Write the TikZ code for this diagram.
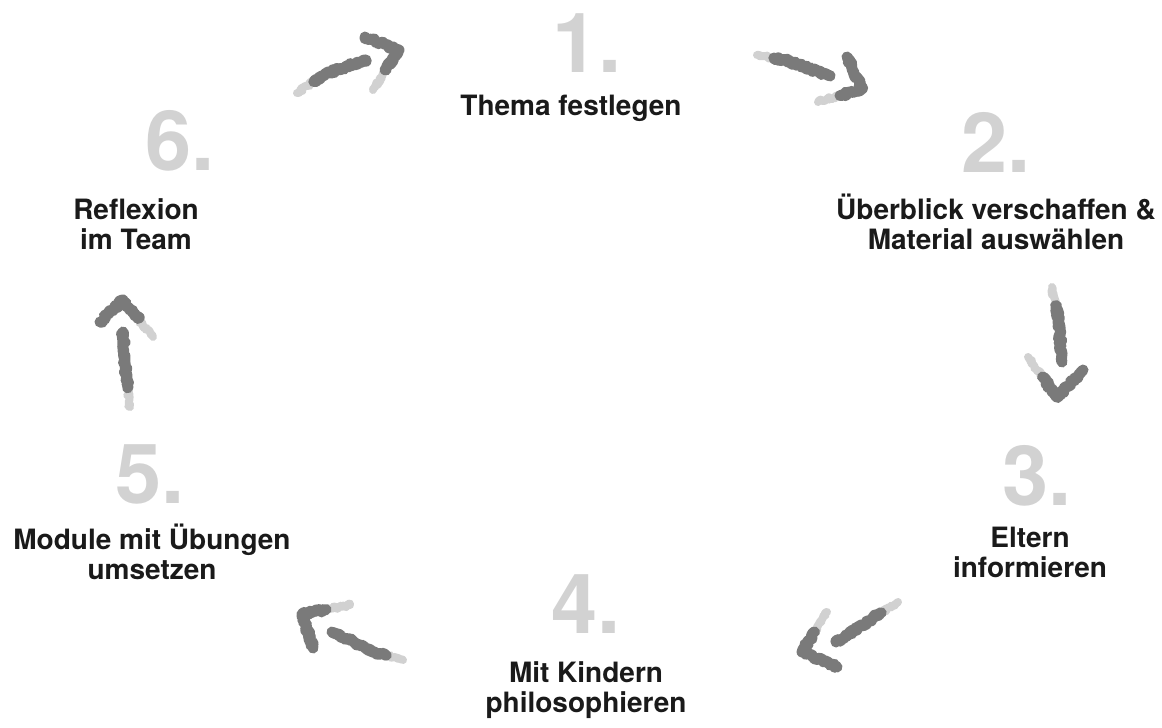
\documentclass[tikz,border=0pt]{standalone}
\usepackage{fontspec}
\setmainfont{TeX Gyre Heros}
\usetikzlibrary{positioning, calc, decorations.pathmorphing}

\definecolor{numgray}{HTML}{D2D2D2}
\definecolor{brushgray}{HTML}{7A7A7A}
\definecolor{textblack}{HTML}{1A1A1A}

\begin{document}
\begin{tikzpicture}[x=1pt, y=-1pt,
    stepnum/.style={font=\fontsize{83}{83}\selectfont\bfseries, text=numgray, inner sep=0pt, anchor=base},
    steptext/.style={font=\fontsize{28}{30}\selectfont\bfseries, text=textblack, align=center, inner sep=0pt, anchor=base},
    brush/.style={draw=brushgray, line width=11pt, line cap=round, line join=round,
        decorate, decoration={random steps, segment length=1.5pt, amplitude=1.6pt}},
    faint/.style={brush, line width=8pt, draw opacity=0.35}]
    \pgfmathsetseed{42}
    \useasboundingbox (0,0) rectangle (1162,728);

    % steps (multi-line texts sit on the baseline of their last line)
    \node[stepnum] (n1) at (587,72) {1.};
    \node[steptext] (t1) at (571,115) {Thema festlegen};

    \node[stepnum] (n2) at (996,172) {2.};
    \node[steptext] (t2) at (996,249) {Überblick verschaffen \&\\Material auswählen};

    \node[stepnum] (n3) at (1037,505) {3.};
    \node[steptext] (t3) at (1030,577) {Eltern\\informieren};

    \node[stepnum] (n4) at (586,633) {4.};
    \node[steptext] (t4) at (586,712) {Mit Kindern\\philosophieren};

    \node[stepnum] (n5) at (150,503) {5.};
    \node[steptext] (t5) at (152,579) {Module mit Übungen\\umsetzen};

    \node[stepnum] (n6) at (180,170) {6.};
    \node[steptext] (t6) at (136,249) {Reflexion\\im Team};

    % arrow points: s = tail, m = bend, e = shaft end, h = head arm, t = tip, f = faded arm
    \path (297,93) coordinate (a1s) (325,74) coordinate (a1m) (366,60) coordinate (a1e)
          (365,37) coordinate (a1h) (399,50) coordinate (a1t) (373,90) coordinate (a1f);
    \path (757,55) coordinate (a2s) (785,60) coordinate (a2m) (830,76) coordinate (a2e)
          (847,57) coordinate (a2h) (862,89) coordinate (a2t) (818,102) coordinate (a2f);
    \path (1052,287) coordinate (a3s) (1058,318) coordinate (a3m) (1062,362) coordinate (a3e)
          (1083,370) coordinate (a3h) (1057,397) coordinate (a3t) (1028,357) coordinate (a3f);
    \path (898,602) coordinate (a4s) (870,620) coordinate (a4m) (836,642) coordinate (a4e)
          (837,667) coordinate (a4h) (802,652) coordinate (a4t) (827,612) coordinate (a4f);
    \path (403,660) coordinate (a5s) (375,652) coordinate (a5m) (332,632) coordinate (a5e)
          (313,648) coordinate (a5h) (302,614) coordinate (a5t) (350,605) coordinate (a5f);
    \path (130,407) coordinate (a6s) (126,375) coordinate (a6m) (123,332) coordinate (a6e)
          (100,322) coordinate (a6h) (123,300) coordinate (a6t) (153,337) coordinate (a6f);

    \foreach \i in {1,...,6} {
        \draw[faint] (a\i s) -- (a\i m);
        \draw[brush] ($(a\i s)!0.6!(a\i m)$) -- (a\i m) -- (a\i e);
        \draw[brush] (a\i h) -- (a\i t) -- ($(a\i t)!0.5!(a\i f)$);
        \draw[faint] ($(a\i t)!0.45!(a\i f)$) -- (a\i f);
    }
\end{tikzpicture}
\end{document}
